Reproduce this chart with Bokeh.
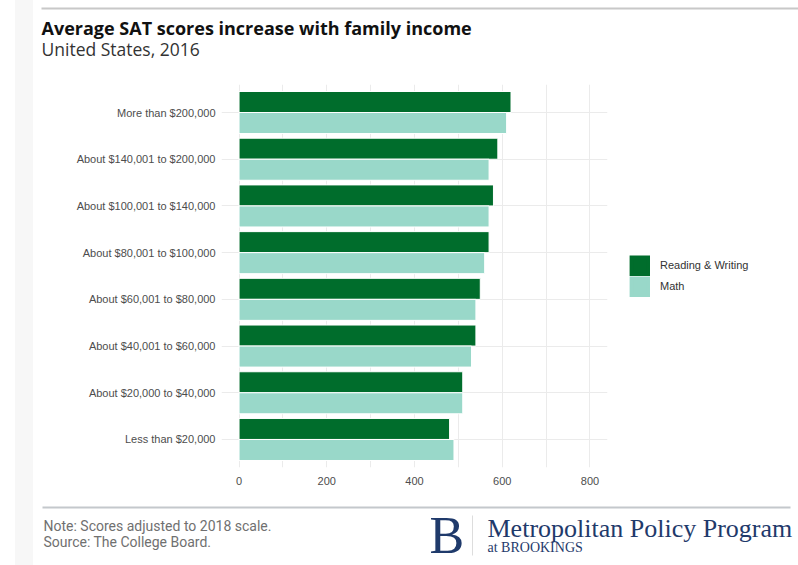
from bokeh.plotting import figure
from bokeh.models import (FactorRange, Range1d, FixedTicker, Label, BoxAnnotation,
                          ColumnDataSource, Legend, LegendItem)
from bokeh.transform import dodge
from bokeh.embed import file_html
from bokeh.resources import INLINE

# ---- data ----
categories = [
    "Less than $20,000",
    "About $20,000 to $40,000",
    "About $40,001 to $60,000",
    "About $60,001 to $80,000",
    "About $80,001 to $100,000",
    "About $100,001 to $140,000",
    "About $140,001 to $200,000",
    "More than $200,000",
]
reading_writing = [480, 510, 540, 550, 570, 580, 590, 620]
math_scores = [490, 510, 530, 540, 560, 570, 570, 610]
series_names = ["Reading & Writing", "Math"]
x_ticks = [0, 200, 400, 600, 800]
x_minor_ticks = [100, 300, 500, 700]

title_text = "Average SAT scores increase with family income"
subtitle_text = "United States, 2016"
note_text = "Note: Scores adjusted to 2018 scale."
source_text = "Source: The College Board."

DARK = "#006d2c"
LIGHT = "#99d8c9"
GRID = "#ebebeb"
NAVY = "#1f3a6b"
W = 798
STRIP = {"background": "linear-gradient(to right, #ffffff 15px, #f7f7f7 15px, "
                       "#f7f7f7 33px, #ffffff 33px)"}
BASE_SHIFT = 0.35  # renderer places alphabetic baseline ~0.35em low


def blank(height, y_top):
    f = figure(width=W, height=height, x_range=Range1d(0, W),
               y_range=Range1d(y_top + height, y_top),
               x_axis_location=None, y_axis_location=None,
               output_backend="svg", toolbar_location=None,
               min_border=0, min_border_left=0, min_border_right=0,
               min_border_top=0, min_border_bottom=0)
    f.outline_line_color = None
    f.grid.visible = False
    f.background_fill_color = None
    f.border_fill_color = None
    f.styles = STRIP
    return f


def box(f, x0, x1, y0, y1, color):
    f.add_layout(BoxAnnotation(left=x0, right=x1, top=y0, bottom=y1,
                               fill_color=color, fill_alpha=1, line_color=None))


def label(f, X, Y, text, font, size, color, style="normal"):
    f.add_layout(Label(x=X, y=Y - BASE_SHIFT * size, text=text, text_font=font,
                       text_font_size=f"{size}px",
                       text_color=color, text_font_style=style,
                       text_baseline="alphabetic", text_align="left"))


# ---- header (page y 0..70) ----
head = blank(70, 0)
box(head, 41, 798, 7, 9, "#c8c8c8")
label(head, 41, 33.5, title_text, "Open Sans", 18, "#111111", "bold")
label(head, 41, 55, subtitle_text, "Open Sans", 17.5, "#333333")

# ---- main chart (page y 70..500) ----
src = ColumnDataSource(dict(cat=categories, rw=reading_writing, math=math_scores))

p = figure(frame_width=386, frame_height=383,
           y_range=FactorRange(factors=categories, range_padding=0.025),
           x_range=Range1d(-40, 840),
           output_backend="svg", toolbar_location=None,
           min_border_left=221, min_border_right=191,
           min_border_top=14, min_border_bottom=33)
p.outline_line_color = None
p.background_fill_color = "white"
p.border_fill_color = None
p.styles = STRIP

p.hbar(y=dodge("cat", 0.225, range=p.y_range), left=0, right="rw", height=0.45,
       source=src, fill_color=DARK, line_color="white", line_width=1)
p.hbar(y=dodge("cat", -0.225, range=p.y_range), left=0, right="math", height=0.45,
       source=src, fill_color=LIGHT, line_color="white", line_width=1)

# hidden legend-key renderers: only their styling is used by the legend keys
k1 = p.hbar(y=categories[:1], left=0, right=reading_writing[:1], height=0.45,
            fill_color=DARK, line_color=DARK, line_width=4, line_join="miter",
            visible=False)
k2 = p.hbar(y=categories[:1], left=0, right=math_scores[:1], height=0.45,
            fill_color=LIGHT, line_color=LIGHT, line_width=4, line_join="miter",
            visible=False)

ticker = FixedTicker(ticks=x_ticks, minor_ticks=x_minor_ticks)
p.xaxis.ticker = ticker
p.xgrid.ticker = ticker
p.xgrid.grid_line_color = GRID
p.xgrid.minor_grid_line_color = GRID
p.ygrid.grid_line_color = GRID

for ax in (p.xaxis[0], p.yaxis[0]):
    ax.axis_line_color = None
    ax.major_tick_line_color = None
    ax.minor_tick_line_color = None
    ax.major_tick_out = 0
    ax.major_tick_in = 0
    ax.major_label_text_font = "Liberation Sans"
    ax.major_label_text_font_size = "11px"
    ax.major_label_text_color = "#4d4d4d"
p.xaxis.major_label_standoff = 5
p.yaxis.major_label_standoff = 6

leg = Legend(items=[LegendItem(label=series_names[0], renderers=[k1]),
                    LegendItem(label=series_names[1], renderers=[k2])],
             location="center_left", margin=22, padding=0, spacing=0,
             glyph_width=21, glyph_height=21, label_height=21, label_standoff=10,
             border_line_color=None, background_fill_alpha=0,
             label_text_font="Liberation Sans", label_text_font_size="11px",
             label_text_color="#333333")
p.add_layout(leg, "right")

# ---- footer (page y 500..565) ----
foot = blank(65, 500)
box(foot, 42, 790, 506, 508, "#c4c8cc")
box(foot, 471.5, 472.5, 515, 555, "#dddddd")
label(foot, 43, 530.5, note_text, "Roboto", 14, "#707070")
label(foot, 43, 546, source_text, "Roboto", 14, "#707070")
label(foot, 429, 553, "B", "Liberation Serif", 52, NAVY)
label(foot, 487, 537, "Metropolitan Policy Program", "Liberation Serif", 26, NAVY)
label(foot, 487, 551.5, "at BROOKINGS", "Liberation Serif", 14, NAVY)

open("out.html", "w").write(file_html([head, p, foot], INLINE))
